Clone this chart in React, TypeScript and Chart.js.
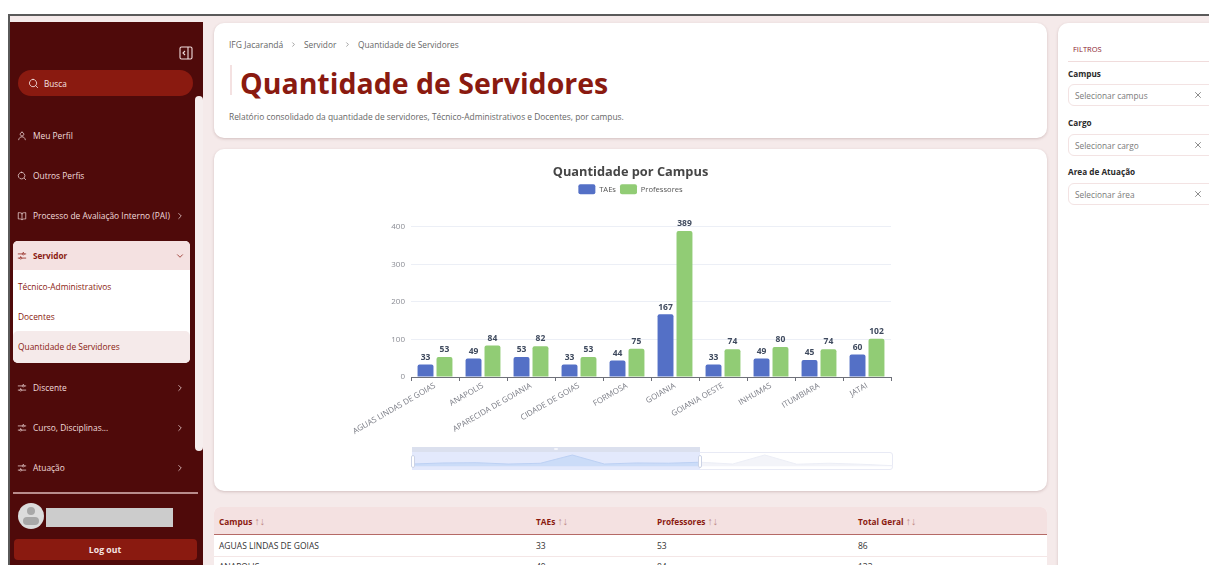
import React, { useEffect, useRef } from "react";
import { Chart, registerables } from "chart.js";

Chart.register(...registerables);

const FONT = "'Open Sans', 'Noto Sans', sans-serif";
const RED = "#8a1a10";
const DARK = "#4f0a0a";

const categories = ["AGUAS LINDAS DE GOIAS", "ANAPOLIS", "APARECIDA DE GOIANIA", "CIDADE DE GOIAS", "FORMOSA", "GOIANIA", "GOIANIA OESTE", "INHUMAS", "ITUMBIARA", "JATAI"];
const taes = [33, 49, 53, 33, 44, 167, 33, 49, 45, 60];
const professores = [53, 84, 82, 53, 75, 389, 74, 80, 74, 102];
const yTicks = [0, 100, 200, 300, 400];
// Overview strip of the data-zoom slider: ten visible campuses, then six estimated hidden ones
const hiddenTaes = [33, 168, 30, 45, 30, 8];

const tableHead = ["Campus", "TAEs", "Professores", "Total Geral"];
const tableRows = [
  ["AGUAS LINDAS DE GOIAS", "33", "53", "86"],
  ["ANAPOLIS", "49", "84", "133"],
];

const barLabels = {
  id: "barLabels",
  afterDatasetsDraw(chart: any) {
    const { ctx } = chart;
    ctx.save();
    ctx.font = `bold 8.5px ${FONT}`;
    ctx.fillStyle = "#3f4a5e";
    ctx.textAlign = "center";
    ctx.textBaseline = "bottom";
    chart.data.datasets.forEach((ds: any, i: number) => {
      chart.getDatasetMeta(i).data.forEach((el: any, j: number) => {
        ctx.fillText(String(ds.data[j]), el.x, el.y - 3);
      });
    });
    ctx.restore();
  },
};

function MainChart() {
  const ref = useRef<HTMLCanvasElement>(null);
  useEffect(() => {
    const chart = new Chart(ref.current!, {
      type: "bar",
      data: {
        labels: categories,
        datasets: [
          { label: "TAEs", data: taes, backgroundColor: "#5470c6", borderRadius: { topLeft: 2, topRight: 2 }, barPercentage: 0.84, categoryPercentage: 0.79 },
          { label: "Professores", data: professores, backgroundColor: "#91cc75", borderRadius: { topLeft: 2, topRight: 2 }, barPercentage: 0.84, categoryPercentage: 0.79 },
        ],
      },
      plugins: [barLabels],
      options: {
        animation: false,
        responsive: false,
        plugins: {
          title: { display: true, text: "Quantidade por Campus", color: "#464646", font: { family: FONT, size: 12.8, weight: "bold" }, padding: { top: 16, bottom: 0 } },
          subtitle: { display: true, text: " ", weight: 500, font: { size: 10 }, padding: { top: 0, bottom: 10.6 } },
          legend: {
            position: "top",
            labels: { boxWidth: 17, boxHeight: 10, padding: 4, useBorderRadius: true, borderRadius: 2, color: "#555", font: { family: FONT, size: 7.6 } },
          },
          tooltip: { enabled: false },
        },
        scales: {
          x: {
            offset: true,
            afterFit: (s: any) => { s.height = 114; },
            grid: { display: true, drawOnChartArea: false, offset: true, tickLength: 4, color: "#6e7079" },
            border: { color: "#6e7079" },
            ticks: { autoSkip: false, minRotation: 30, maxRotation: 30, color: "#7a7c85", padding: 0, font: { family: FONT, size: 8 } },
          },
          y: {
            min: 0,
            max: 400,
            afterFit: (s: any) => { s.width = 197; },
            afterBuildTicks: (s: any) => { s.ticks = yTicks.map((value) => ({ value })); },
            grid: { color: "#eceff6", drawTicks: false },
            border: { display: false },
            ticks: { color: "#8a8c94", padding: 6, font: { family: FONT, size: 8 } },
          },
          // Empty right-hand gutter: keeps the title and legend centred on the card
          gutter: {
            type: "linear",
            position: "right",
            afterFit: (s: any) => { s.width = 156; },
            grid: { display: false },
            border: { display: false },
            ticks: { display: false },
          },
        },
      },
    } as any);
    return () => chart.destroy();
  }, []);
  return <canvas ref={ref} width={833} height={342} style={{ position: "absolute", left: 214, top: 149, width: 833, height: 342 }} />;
}

function SliderShadow() {
  const ref = useRef<HTMLCanvasElement>(null);
  useEffect(() => {
    const all = [...taes, ...hiddenTaes];
    const inside = all.map((v, i) => (i <= taes.length - 1 ? v : null));
    const outside = all.map((v, i) => (i >= taes.length - 1 ? v : null));
    const chart = new Chart(ref.current!, {
      type: "line",
      data: {
        labels: all.map((_, i) => String(i)),
        datasets: [
          { data: inside, borderColor: "#bcd0f3", backgroundColor: "#cbdcf8", borderWidth: 1, pointRadius: 0, fill: "origin", tension: 0 },
          { data: outside, borderColor: "#eceef6", backgroundColor: "#f3f4f9", borderWidth: 1, pointRadius: 0, fill: "origin", tension: 0 },
        ],
      },
      options: {
        animation: false,
        responsive: false,
        layout: { padding: 0 },
        plugins: { legend: { display: false }, tooltip: { enabled: false } },
        scales: { x: { display: false }, y: { display: false, min: -56, max: 212 } },
      },
    } as any);
    return () => chart.destroy();
  }, []);
  return <canvas ref={ref} width={481} height={18} style={{ position: "absolute", left: 412, top: 452, width: 481, height: 18 }} />;
}

function T({ x, y, size = 9, color = "#555", bold = false, children, center = false }: any) {
  return (
    <div style={{ position: "absolute", left: x, top: y, transform: center ? "translate(-50%,-50%)" : "translateY(-50%)", fontSize: size, color, fontWeight: bold ? 700 : 400, whiteSpace: "nowrap", lineHeight: 1 }}>
      {children}
    </div>
  );
}

function Box({ x, y, w, h, bg, r = 0, border, shadow, z }: any) {
  return <div style={{ position: "absolute", left: x, top: y, width: w, height: h, background: bg, borderRadius: r, border, boxShadow: shadow, boxSizing: "border-box", zIndex: z }} />;
}

function Icon({ x, y, color = "#f0dada", d, size = 10 }: any) {
  return (
    <svg style={{ position: "absolute", left: x, top: y - size / 2 }} width={size} height={size} viewBox="0 0 24 24" fill="none" stroke={color} strokeWidth={1.8} strokeLinecap="round" strokeLinejoin="round">
      <path d={d} />
    </svg>
  );
}

const SLIDERS = "M3 7h9M18 7h3M3 17h3M12 17h9M15 4.500a2.500 2.500 0 1 0 .01 0zM9 14.500a2.500 2.500 0 1 0 .01 0z";
const CHEV = "M9 6l6 6-6 6";
const DOWN = "M6 9l6 6 6-6";
const SEARCH = "M11 3a8 8 0 1 0 .01 0zM21 21l-4.300-4.300";
const USER = "M12 3a4.500 4.500 0 1 0 .01 0zM4 21c1-5 4-7 8-7s7 2 8 7";
const BOOK = "M12 6C10 4 7 4 3 4v15c4 0 7 0 9 2 2-2 5-2 9-2V4c-4 0-7 0-9 2zM12 6v15";
const CLOSE = "M6 6l12 12M18 6L6 18";

const SIDE_TEXT = "#f1dcdc";
const PINK = "#f4e1e1";
const MENU = 8.400;

function Sidebar() {
  return (
    <>
      <Box x={10} y={22} w={193} h={543} bg={DARK} />
      <Box x={195} y={96} w={8} h={355} bg="#f6eeee" r="4px 4px 4px 4px" />
      <svg style={{ position: "absolute", left: 179, top: 46 }} width={14} height={14} viewBox="0 0 14 14" fill="none" stroke="#f1dcdc" strokeWidth={1.1}>
        <rect x={1} y={1} width={12} height={12} rx={1.5} />
        <path d="M9 1v12M6 5L4 7l2 2" />
      </svg>
      <Box x={18} y={70} w={175} h={26} bg={RED} r={13} />
      <Icon x={28} y={83} d={SEARCH} color="#f6e4e4" size={11} />
      <T x={44} y={83.500} size={8.200} color="#f6e4e4">Busca</T>

      <Icon x={17} y={136} d={USER} />
      <T x={33} y={136} size={MENU} color={SIDE_TEXT}>Meu Perfil</T>
      <Icon x={17} y={176} d={SEARCH} />
      <T x={33} y={176} size={MENU} color={SIDE_TEXT}>Outros Perfis</T>
      <Icon x={17} y={216} d={BOOK} />
      <T x={33} y={216} size={MENU} color={SIDE_TEXT}>Processo de Avaliação Interno (PAI)</T>
      <Icon x={175} y={216} d={CHEV} />

      <Box x={13} y={241} w={177} h={122} bg="#fff" r={5} />
      <Box x={13} y={241} w={177} h={29} bg={PINK} r="5px 5px 0 0" />
      <Icon x={17} y={256} d={SLIDERS} color={RED} />
      <T x={33} y={256} size={8.200} color={RED} bold>Servidor</T>
      <Icon x={175} y={256} d={DOWN} color={RED} />
      <T x={18} y={287} size={MENU} color={RED}>Técnico-Administrativos</T>
      <T x={18} y={317} size={MENU} color={RED}>Docentes</T>
      <Box x={13} y={331} w={177} h={32} bg="#f5eaea" r={5} />
      <T x={18} y={347} size={MENU} color={RED}>Quantidade de Servidores</T>

      <Icon x={17} y={388} d={SLIDERS} />
      <T x={33} y={388} size={MENU} color={SIDE_TEXT}>Discente</T>
      <Icon x={175} y={388} d={CHEV} />
      <Icon x={17} y={428} d={SLIDERS} />
      <T x={33} y={428} size={MENU} color={SIDE_TEXT}>Curso, Disciplinas...</T>
      <Icon x={175} y={428} d={CHEV} />
      <Icon x={17} y={468} d={SLIDERS} />
      <T x={33} y={468} size={MENU} color={SIDE_TEXT}>Atuação</T>
      <Icon x={175} y={468} d={CHEV} />

      <Box x={13} y={492} w={185} h={2} bg="#b98c8c" />
      <Box x={18} y={503} w={26} h={26} bg="#dcdcdc" r={13} />
      <Box x={27} y={507} w={8} h={8} bg="#a8a8a8" r={4} />
      <Box x={23} y={517} w={16} h={8} bg="#a8a8a8" r={4} />
      <Box x={46} y={508} w={127} h={19} bg="#cccccc" />
      <Box x={14} y={539} w={183} h={21} bg={RED} r={4} />
      <T x={105} y={550} size={8.700} color="#f6e4e4" bold center>Log out</T>
    </>
  );
}

function Header() {
  return (
    <>
      <Box x={214} y={23} w={833} h={115} bg="#fff" r={10} shadow="0 1px 3px rgba(90,40,40,.22)" />
      <T x={229} y={44.500} size={8.500} color="#666">IFG Jacarandá</T>
      <Icon x={290} y={44.500} d={CHEV} size={7} color="#555" />
      <T x={304} y={44.500} size={8.300} color="#666">Servidor</T>
      <Icon x={344} y={44.500} d={CHEV} size={7} color="#555" />
      <T x={358} y={44.500} size={8.300} color="#666">Quantidade de Servidores</T>
      <Box x={230} y={65} w={2} h={30} bg={PINK} />
      <T x={240} y={83} size={28.500} color={RED} bold>Quantidade de Servidores</T>
      <T x={229} y={116.500} size={8.400} color="#666">Relatório consolidado da quantidade de servidores, Técnico-Administrativos e Docentes, por campus.</T>
    </>
  );
}

function ChartCard() {
  return (
    <>
      <Box x={214} y={149} w={833} h={342} bg="#fff" r={10} shadow="0 1px 3px rgba(90,40,40,.22)" />
      <Box x={412} y={452} w={481} h={18} bg="#fff" r={3} border="1px solid #e8eaf5" />
      <Box x={412} y={447} w={288} h={5} bg="#dbe0ee" />
      <Box x={412} y={452} w={288} h={18} bg="#e3e9fc" />
      <MainChart />
      <SliderShadow />
      <Box x={554} y={448} w={4} h={2} bg="#f4f5fa" r={1} />
      <Box x={411} y={455} w={4} h={13} bg="#fff" r={2} border="1px solid #ccd3e6" />
      <Box x={698} y={455} w={4} h={13} bg="#fff" r={2} border="1px solid #ccd3e6" />
    </>
  );
}

function Table() {
  const columns = [219, 536, 657, 858];
  return (
    <>
      <Box x={214} y={507} w={833} h={70} bg="#fff" r="6px 6px 0 0" />
      <Box x={214} y={507} w={833} h={28} bg={PINK} r="6px 6px 0 0" />
      <Box x={214} y={534} w={833} h={1} bg="#b56a66" />
      <Box x={214} y={556} w={833} h={1} bg="#f4e6e6" />
      {tableHead.map((h, i) => (
        <div key={h}>
          <T x={columns[i]} y={520.500} size={8.300} color={RED} bold>{h} <span style={{ fontWeight: 400, fontSize: 10.500, color: "#c08a86" }}>↑↓</span></T>
        </div>
      ))}
      {tableRows.map((row, r) =>
        row.map((cell, i) => (
          <T key={`${r}-${i}`} x={columns[i]} y={545.500 + r * 21} size={8.500} color="#333">{cell}</T>
        )),
      )}
    </>
  );
}

function Filters() {
  const items = [["Campus", "Selecionar campus", 74, 84], ["Cargo", "Selecionar cargo", 123, 134], ["Area de Atuação", "Selecionar área", 172, 183]] as const;
  return (
    <>
      <Box x={1058} y={23} w={170} h={560} bg="#fff" r={10} shadow="0 1px 3px rgba(90,40,40,.22)" />
      <T x={1073} y={49.500} size={7.500} color="#8a1a30">FILTROS</T>
      <Box x={1068} y={61} w={141} h={1} bg="#f0dcdc" />
      {items.map(([label, ph, ly, by]) => (
        <div key={label}>
          <T x={1068} y={ly} size={8.200} color="#2a2a2a" bold>{label}</T>
          <Box x={1068} y={by} w={160} h={22} bg="#fff" r={6} border="1px solid #f3e3e3" />
          <T x={1075} y={by + 12} size={8.300} color="#7a7a7a">{ph}</T>
          <Icon x={1193} y={by + 11} d={CLOSE} size={10} color="#666" />
        </div>
      ))}
    </>
  );
}

export default function App() {
  return (
    <div style={{ position: "fixed", inset: 0, overflow: "hidden", background: "#fff", fontFamily: FONT }}>
      <Box x={9} y={15} w={1240} h={560} bg="#f5eaea" />
      <Box x={8} y={14} w={1240} h={2} bg="#5a5a5a" />
      <Box x={8} y={14} w={2} h={560} bg="#5a5a5a" />
      <Sidebar />
      <Header />
      <ChartCard />
      <Table />
      <Filters />
    </div>
  );
}
